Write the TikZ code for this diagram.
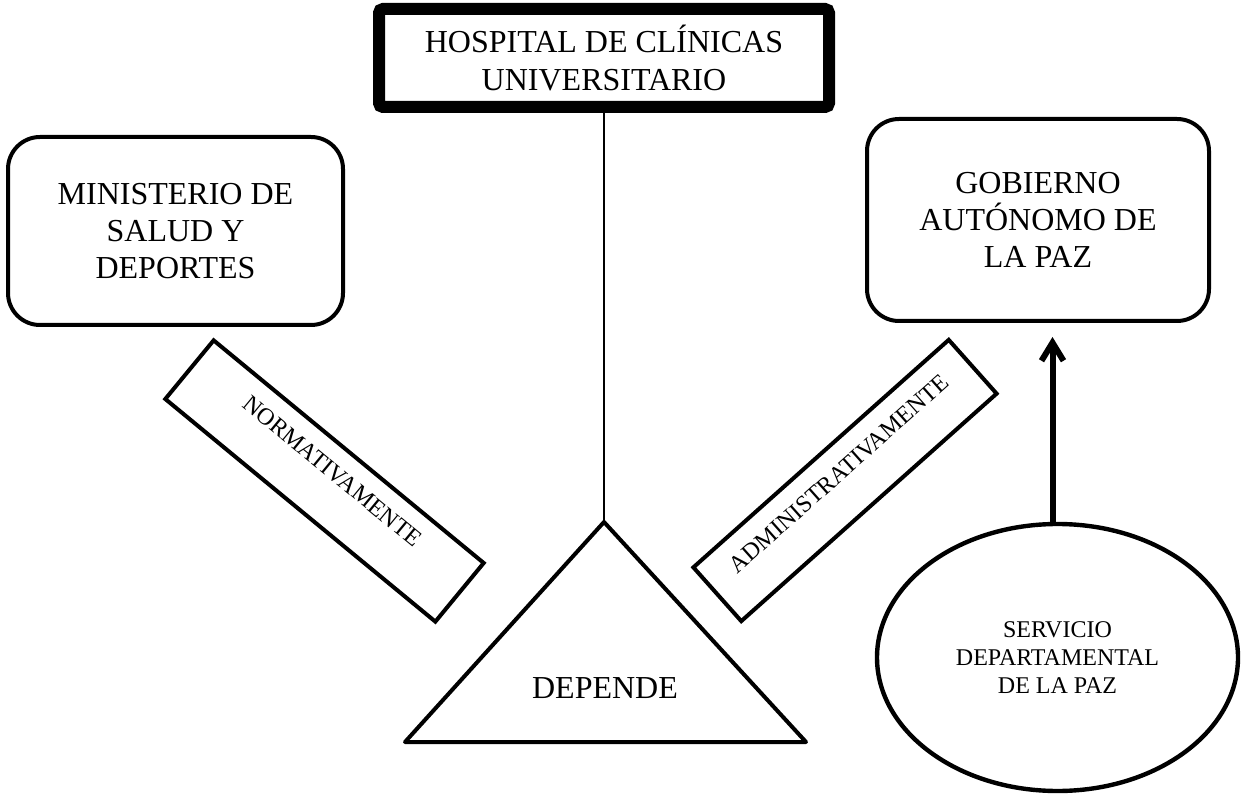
\documentclass[tikz,border=0pt]{standalone}
\usepackage{fontspec}
\setmainfont{Liberation Serif}
\usetikzlibrary{
  shapes.geometric,
  arrows.meta}

\begin{document}
\begin{tikzpicture}[x=0.5pt,y=-0.5pt]
\tikzset{
  bigfont/.style={font=\fontsize{16}{18.5}\selectfont},
  smallfont/.style={font=\fontsize{12}{13.8}\selectfont},
  roundbox/.style={draw, line width=2pt, rounded corners=16pt,
    align=center, inner sep=0pt, bigfont},
  tiltbox/.style={draw, line width=2pt, inner sep=0pt, smallfont},
  thickline/.style={line width=2pt, line join=round},
}
\useasboundingbox (0,0) rectangle (1242,796);
\node[
  draw,
  line width=6pt,
  rounded corners=2pt,
  minimum width=225pt,
  minimum height=49pt,
  align=center,
  font=\fontsize{16}{19}\selectfont
] (hospital) at (604,58) {HOSPITAL DE CLÍNICAS\\UNIVERSITARIO};
\node[roundbox, minimum width=167.5pt, minimum height=94pt]
  (ministerio) at (175.5,231) {MINISTERIO DE\\SALUD Y\\DEPORTES};
\node[roundbox, minimum width=171pt, minimum height=101pt]
  (gobierno) at (1038,220) {GOBIERNO\\AUTÓNOMO DE\\LA PAZ};
\node[tiltbox, rotate=-39.5, minimum width=175pt,
  text height=16.5pt, text depth=21.5pt]
  (normativo) at (324.5,481) {NORMATIVAMENTE};
\node[tiltbox, rotate=41.7, minimum width=171pt,
  text height=17.25pt, text depth=18.75pt]
  (administrativo) at (845,480.5) {ADMINISTRATIVAMENTE};
\node[ellipse, draw, line width=2.2pt, minimum width=180.5pt,
  minimum height=133.5pt, inner sep=0pt, align=center, smallfont]
  (servicio) at (1057.5,657.5) {SERVICIO\\DEPARTAMENTAL\\DE LA PAZ};
% triangle
\coordinate (apex) at (604,522);
\draw[thickline] (apex) -- (405,742) -- (806,742) -- cycle;
\node[bigfont] (depende) at (605,688.5) {DEPENDE};
\draw[line width=1pt] (hospital.south) -- (apex);
% arrow
\coordinate (arrowfoot) at ([xshift=-2.5pt]servicio.north);
\draw[
  line width=3pt,
  -{Straight Barb[length=9pt,width=11pt]},
  shorten >=7pt
] (arrowfoot) -- (arrowfoot |- gobierno.south);
\end{tikzpicture}
\end{document}
